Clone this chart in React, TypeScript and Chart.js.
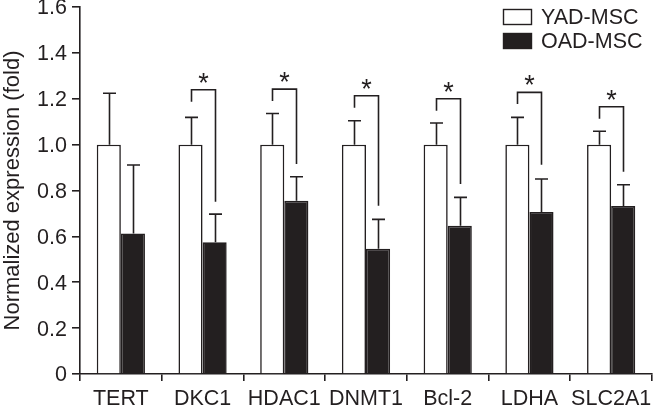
import React, { useEffect, useRef } from 'react';
import { Chart, registerables } from 'chart.js';

Chart.register(...registerables);

const categories = ['TERT', 'DKC1', 'HDAC1', 'DNMT1', 'Bcl-2', 'LDHA', 'SLC2A1'];
const seriesNames = ['YAD-MSC', 'OAD-MSC'];
const yadValues = [1.0, 1.0, 1.0, 1.0, 1.0, 1.0, 1.0];
const yadErrors = [0.224, 0.119, 0.136, 0.104, 0.094, 0.119, 0.058];
const oadValues = [0.613, 0.574, 0.755, 0.546, 0.646, 0.706, 0.732];
const oadErrors = [0.298, 0.123, 0.105, 0.128, 0.124, 0.144, 0.093];
const yTicks = [0, 0.2, 0.4, 0.6, 0.8, 1.0, 1.2, 1.4, 1.6];
const significant = [false, true, true, true, true, true, true];
const bracketTop = [0, 1.239, 1.242, 1.213, 1.2, 1.228, 1.165];
const bracketLeftEnd = [0, 1.187, 1.19, 1.161, 1.148, 1.177, 1.113];
const bracketRightEnd = [0, 0.751, 0.915, 0.734, 0.828, 0.912, 0.882];

const INK = '#231f20';
const FONT = '"Liberation Sans", Arial, Helvetica, sans-serif';
const errorSets = [yadErrors, oadErrors];

const errorBarPlugin = {
  id: 'errorBars',
  afterDatasetsDraw(chart: any) {
    const ctx = chart.ctx;
    const yScale = chart.scales.y;
    ctx.save();
    ctx.strokeStyle = INK;
    ctx.lineWidth = 1.6;
    chart.data.datasets.forEach((ds: any, di: number) => {
      const meta = chart.getDatasetMeta(di);
      meta.data.forEach((el: any, i: number) => {
        const v = ds.data[i];
        const top = yScale.getPixelForValue(v + errorSets[di][i]);
        const x = Math.round(el.x) + 0.5;
        ctx.beginPath();
        ctx.moveTo(x, el.y);
        ctx.lineTo(x, top);
        ctx.moveTo(x - 6.5, top);
        ctx.lineTo(x + 6.5, top);
        ctx.stroke();
      });
    });
    // significance brackets
    const m0 = chart.getDatasetMeta(0);
    const m1 = chart.getDatasetMeta(1);
    categories.forEach((_, i) => {
      if (!significant[i]) return;
      const x0 = Math.round(m0.data[i].x) + 0.5;
      const x1 = Math.round(m1.data[i].x) + 0.5;
      const yt = yScale.getPixelForValue(bracketTop[i]);
      const yl = yScale.getPixelForValue(bracketLeftEnd[i]);
      const yr = yScale.getPixelForValue(bracketRightEnd[i]);
      ctx.beginPath();
      ctx.moveTo(x0, yl);
      ctx.lineTo(x0, yt);
      ctx.lineTo(x1, yt);
      ctx.lineTo(x1, yr);
      ctx.stroke();
      ctx.fillStyle = INK;
      ctx.font = `27px ${FONT}`;
      ctx.textAlign = 'center';
      ctx.textBaseline = 'alphabetic';
      ctx.fillText('*', (x0 + x1) / 2, yt + 2);
    });
    ctx.restore();
  },
};

const legendPlugin = {
  id: 'boxLegend',
  afterDraw(chart: any) {
    const ctx = chart.ctx;
    ctx.save();
    chart.data.datasets.forEach((ds: any, i: number) => {
      const bx = 503.5;
      const by = 9.5 + i * 24;
      const bw = 28;
      const bh = 15;
      ctx.fillStyle = ds.backgroundColor;
      ctx.fillRect(bx, by, bw, bh);
      ctx.strokeStyle = ds.borderColor;
      ctx.lineWidth = 1.4;
      ctx.strokeRect(bx, by, bw, bh);
      ctx.fillStyle = INK;
      ctx.font = `21.5px ${FONT}`;
      ctx.textAlign = 'left';
      ctx.textBaseline = 'middle';
      ctx.fillText(ds.label, 541, by + bh / 2 + 1);
    });
    ctx.restore();
  },
};

export default function App() {
  const canvasRef = useRef<HTMLCanvasElement | null>(null);

  useEffect(() => {
    if (!canvasRef.current) return;
    const chart = new Chart(canvasRef.current, {
      type: 'bar',
      data: {
        labels: categories,
        datasets: [
          {
            label: seriesNames[0],
            data: yadValues,
            backgroundColor: '#ffffff',
            borderColor: INK,
            borderWidth: 1.6,
          },
          {
            label: seriesNames[1],
            data: oadValues,
            backgroundColor: INK,
            borderColor: INK,
            borderWidth: 1.6,
          },
        ],
      },
      options: {
        responsive: false,
        animation: false,
        devicePixelRatio: 1,
        layout: { padding: { top: 7, right: 2, left: 0, bottom: 0 } },
        datasets: { bar: { categoryPercentage: 0.59, barPercentage: 1.0 } },
        plugins: {
          legend: { display: false },
          tooltip: { enabled: false },
        },
        scales: {
          x: {
            grid: {
              offset: true,
              drawOnChartArea: false,
              drawTicks: true,
              tickLength: 7,
              color: INK,
              lineWidth: 1.6,
            },
            border: { display: true, color: INK, width: 1.6 },
            ticks: {
              color: INK,
              font: { family: FONT, size: 21.5 },
              padding: 5,
              maxRotation: 0,
              autoSkip: false,
            },
            afterFit: (s: any) => {
              s.height = 32;
              s.paddingLeft = 0;
              s.paddingRight = 0;
            },
          },
          y: {
            min: 0,
            max: 1.6,
            afterBuildTicks: (s: any) => {
              s.ticks = yTicks.map((v) => ({ value: v }));
            },
            grid: {
              drawOnChartArea: false,
              drawTicks: true,
              tickLength: 8,
              color: INK,
              lineWidth: 1.6,
            },
            border: { display: true, color: INK, width: 1.6 },
            ticks: {
              color: INK,
              font: { family: FONT, size: 21.5 },
              padding: 5,
              labelOffset: 1.5,
              callback: (v: any) => (Number(v) === 0 ? '0' : Number(v).toFixed(1)),
            },
            title: {
              display: true,
              text: 'Normalized expression (fold)',
              color: INK,
              font: { family: FONT, size: 22 },
              padding: { top: 0, bottom: 0 },
            },
            afterFit: (s: any) => {
              s.width = 80;
              s.paddingTop = 0;
              s.paddingBottom = 0;
            },
          },
        },
      },
      plugins: [errorBarPlugin, legendPlugin],
    });
    return () => chart.destroy();
  }, []);

  return (
    <div style={{ position: 'fixed', left: 0, top: 0, width: 654, height: 406, background: '#ffffff' }}>
      <canvas ref={canvasRef} width={654} height={406} style={{ display: 'block', width: 654, height: 406 }} />
    </div>
  );
}
